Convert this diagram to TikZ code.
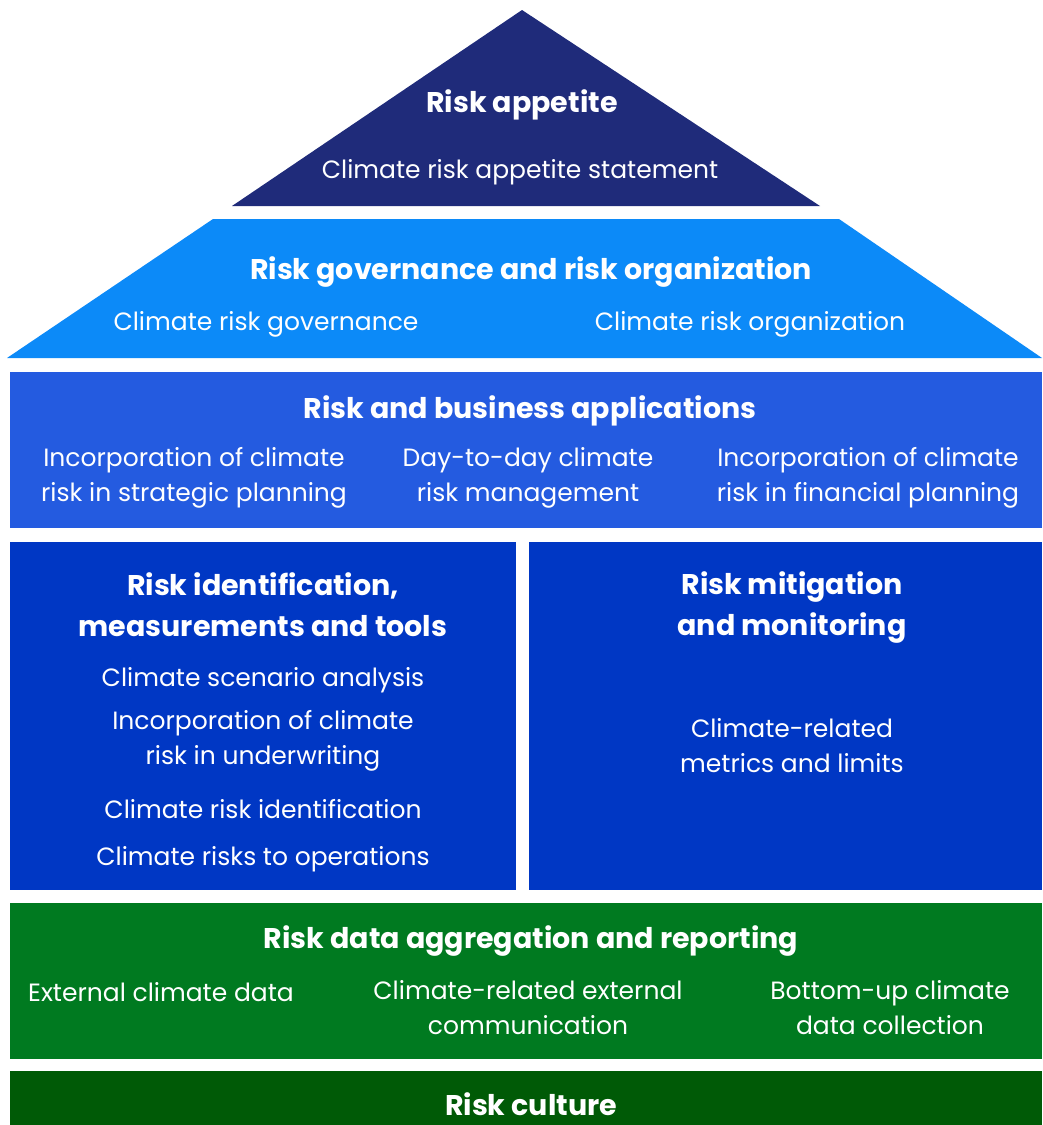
\documentclass[tikz,border=0pt]{standalone}
\usepackage{fontspec}
\setmainfont{Poppins}
\usetikzlibrary{positioning}
\usepackage{xcolor}
\definecolor{appetiteblue}{RGB}{31,43,122}
\definecolor{govblue}{RGB}{12,138,248}
\definecolor{appblue}{RGB}{36,91,224}
\definecolor{toolblue}{RGB}{0,55,196}
\definecolor{datagreen}{RGB}{0,122,32}
\definecolor{culturegreen}{RGB}{0,90,6}

\begin{document}
\begin{tikzpicture}[x=1pt,y=-1pt,
		every node/.style={text=white,align=center,font=\fontsize{25}{35}\selectfont},
		title/.style={font=\fontsize{28.5}{41}\selectfont\bfseries},
		block/.style={rectangle,inner sep=0pt,anchor=north west}]
	\useasboundingbox (0,0) rectangle (1042,1125);
	
	% Tetto: appetito e governance
	\fill[appetiteblue] (522,10) coordinate (apex) -- (820,206) coordinate (appr) -- (232,206) coordinate (appl) -- cycle;
	\fill[govblue] (213,219) coordinate (govtl) -- (839,219) coordinate (govtr) -- (1042,358) coordinate (govbr) -- (7,358) coordinate (govbl) -- cycle;
	\node[title] (appetite) at (522,105) {Risk appetite};
	\node (statement) at (520,172) {Climate risk appetite statement};
	\node[title] (governance) at (531,272) {Risk governance and risk organization};
	\node (govern) at (266,324) {Climate risk governance};
	\node (organiz) at (750,324) {Climate risk organization};
	
	% Applicazioni
	\node[block,fill=appblue,minimum width=1032pt,minimum height=156pt] (apps) at (10,372) {};
	\node[title] (appstitle) at (530,411) {Risk and business applications};
	\node (strategic) at (194,478) {Incorporation of climate\\risk in strategic planning};
	\node (daytoday) at (528,478) {Day-to-day climate\\risk management};
	\node (financial) at (868,478) {Incorporation of climate\\risk in financial planning};
	
	% Colonne
	\node[block,fill=toolblue,minimum width=506pt,minimum height=348pt] (tools) at (10,542) {};
	\node[block,fill=toolblue,minimum width=513pt,minimum height=348pt] (mitig) at (529,542) {};
	\node[title] (toolstitle) at (263,605) {Risk identification,\\measurements and tools};
	\node (scenario) at (263,680) {Climate scenario analysis};
	\node (underwrit) at (263,741) {Incorporation of climate\\risk in underwriting};
	\node (identif) at (263,809) {Climate risk identification};
	\node (operat) at (263,859) {Climate risks to operations};
	\node[title] (mitigtitle) at (792,607) {Risk mitigation\\and monitoring};
	\node (metrics) at (792,746) {Climate-related\\metrics and limits};
	
	% Dati
	\node[block,fill=datagreen,minimum width=1032pt,minimum height=156pt] (data) at (10,903) {};
	\node[title] (datatitle) at (531,941) {Risk data aggregation and reporting};
	\node (external) at (161,992) {External climate data};
	\node (communic) at (528,1008) {Climate-related external\\communication};
	\node (bottomup) at (890,1008) {Bottom-up climate\\data collection};
	
	% Cultura
	\node[block,fill=culturegreen,minimum width=1032pt,minimum height=60pt] (culture) at (10,1071) {};
	\node[title] (culturetitle) at (531,1104) {Risk culture};
\end{tikzpicture}
\end{document}
